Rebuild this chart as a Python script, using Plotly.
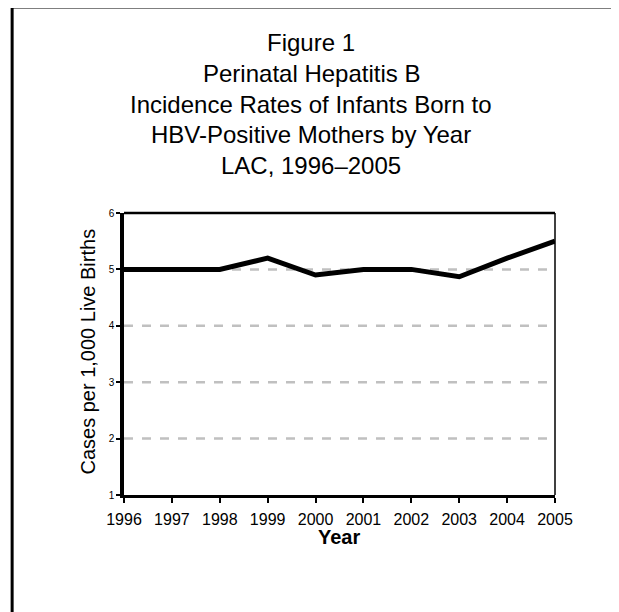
import plotly.graph_objects as go

years = [1996, 1997, 1998, 1999, 2000, 2001, 2002, 2003, 2004, 2005]
rates = [5.0, 5.0, 5.0, 5.2, 4.9, 5.0, 5.0, 4.87, 5.2, 5.5]
y_ticks = [1, 2, 3, 4, 5, 6]
title_lines = ["Figure 1", "Perinatal Hepatitis B", "Incidence Rates of Infants Born to",
               "HBV-Positive Mothers by Year", "LAC, 1996\u20132005"]

OFF = 8  # page body margin
W, H = 619 - OFF, 612 - OFF
L, R, T, B = 123.5 - OFF, 555 - OFF, 213 - OFF, 495 - OFF
pw, ph = R - L, B - T

def px(x):
    return (x - OFF - L) / pw

def py(y):
    return (B - (y - OFF)) / ph

FONT = "Liberation Sans, Arial, sans-serif"

fig = go.Figure()
fig.add_trace(go.Scatter(x=years, y=rates, mode="lines",
                         line=dict(color="black", width=5), cliponaxis=False,
                         showlegend=False))

shapes = []
for v in [2, 3, 4, 5]:
    shapes.append(dict(type="line", xref="paper", yref="y", x0=0, x1=1, y0=v, y1=v,
                       line=dict(color="#c0c0c0", width=2.5, dash="dash"), layer="below"))
shapes.append(dict(type="line", xref="paper", yref="paper", x0=0, x1=1, y0=1, y1=1,
                   line=dict(color="black", width=2.5)))
shapes.append(dict(type="line", xref="paper", yref="paper", x0=1, x1=1, y0=0, y1=1,
                   line=dict(color="black", width=1.5)))
shapes.append(dict(type="rect", xref="paper", yref="paper",
                   x0=px(11.5), x1=px(700), y0=py(7), y1=py(700),
                   line=dict(color="black", width=3), fillcolor="rgba(0,0,0,0)"))

annotations = []
title_y = [43, 74, 105, 135, 166]
for t, yy in zip(title_lines, title_y):
    annotations.append(dict(text=t, xref="paper", yref="paper", x=px(311), y=py(yy),
                            showarrow=False, xanchor="center", yanchor="middle",
                            font=dict(family=FONT, size=24, color="black")))
annotations.append(dict(text="Cases per 1,000 Live Births", xref="paper", yref="paper",
                        x=px(87), y=py(352), textangle=-90, showarrow=False,
                        xanchor="center", yanchor="middle",
                        font=dict(family=FONT, size=20, color="black")))
annotations.append(dict(text="<b>Year</b>", xref="paper", yref="paper",
                        x=px(339), y=py(537), showarrow=False,
                        xanchor="center", yanchor="middle",
                        font=dict(family=FONT, size=20, color="black")))

fig.update_layout(
    width=W, height=H, autosize=False,
    margin=dict(l=L, r=W - R, t=T, b=H - B),
    paper_bgcolor="white", plot_bgcolor="white",
    shapes=shapes, annotations=annotations,
    xaxis=dict(range=[1996, 2005], tickvals=years, ticktext=[str(y) for y in years],
               showgrid=False, zeroline=False, showline=True, linecolor="black", linewidth=2.5,
               ticks="outside", ticklen=5, tickwidth=2, tickcolor="black",
               ticklabelstandoff=3,
               tickfont=dict(family=FONT, size=16, color="black")),
    yaxis=dict(range=[1, 6], tickvals=y_ticks, showgrid=False, zeroline=False,
               showline=True, linecolor="black", linewidth=3.5,
               ticks="outside", ticklen=4, tickwidth=2, tickcolor="black",
               tickfont=dict(family=FONT, size=10, color="black")),
)

fig.write_html("out.html")
